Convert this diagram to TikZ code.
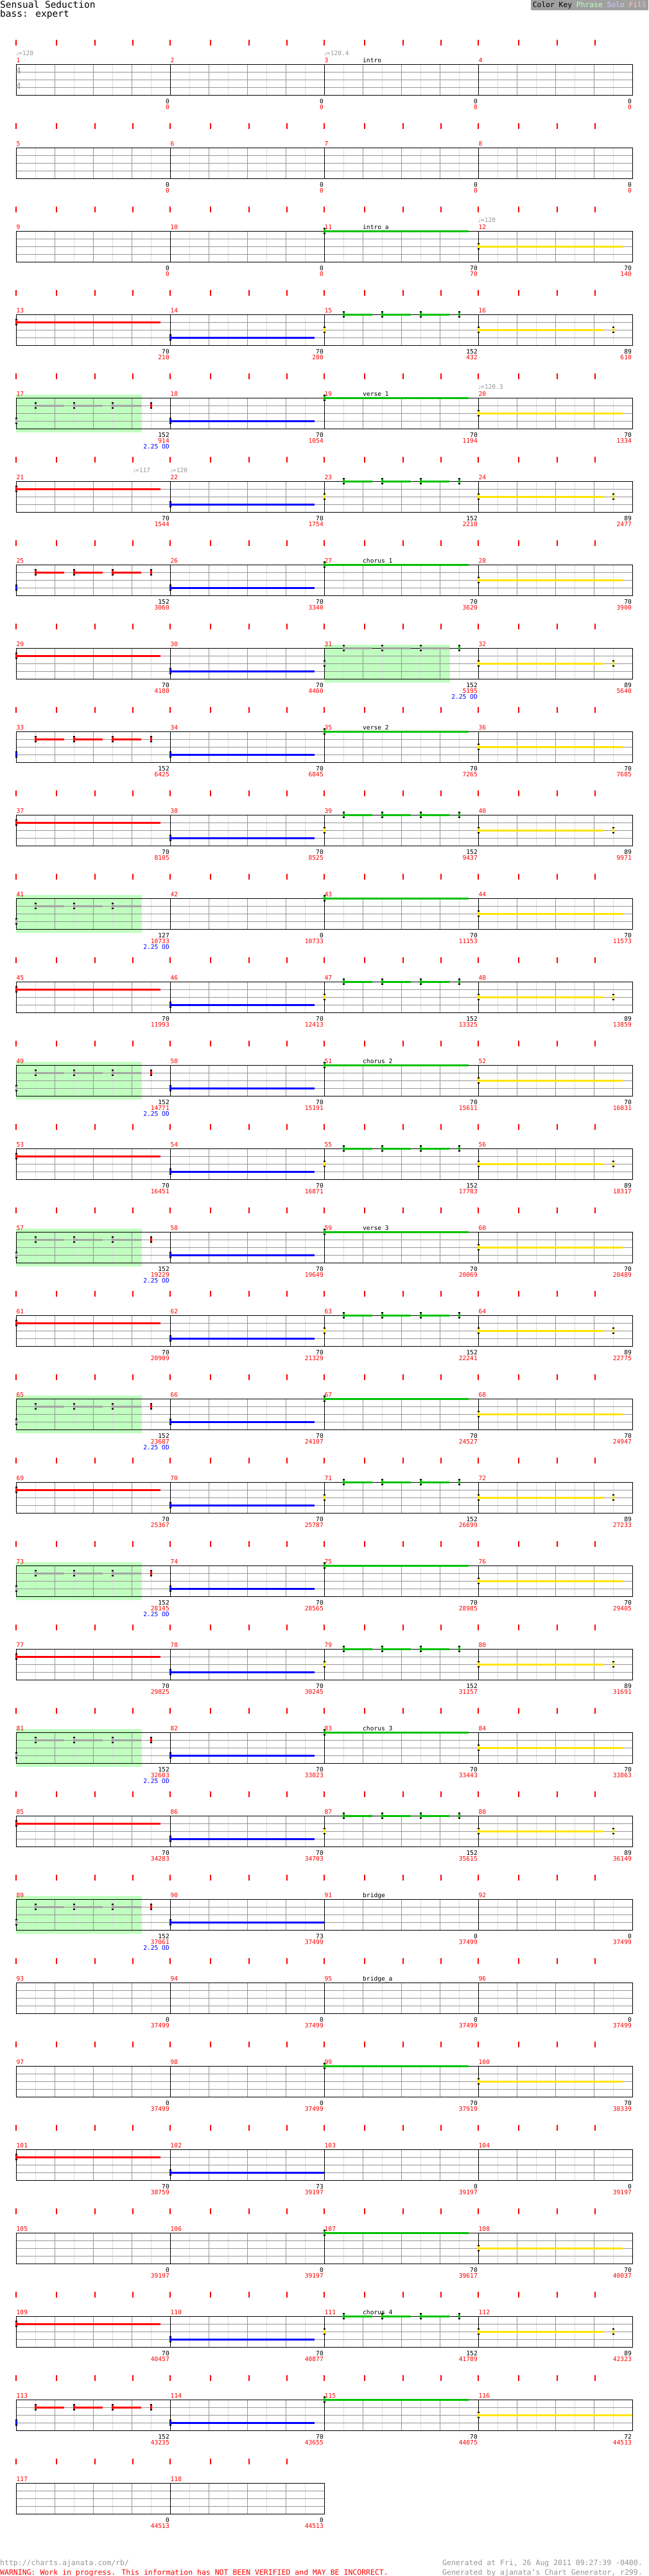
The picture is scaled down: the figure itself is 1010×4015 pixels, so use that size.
\documentclass[tikz,border=0pt]{standalone}
\usepackage{fontspec}
\setmainfont{DejaVu Sans Mono}
\newfontfamily\symfont{DejaVu Sans}
\definecolor{nred}{RGB}{255,0,0}
\definecolor{ngrn}{RGB}{0,192,0}
\definecolor{nyel}{RGB}{255,228,0}
\definecolor{nblue}{RGB}{0,0,255}
\definecolor{ngray}{RGB}{165,165,165}
\definecolor{odfill}{RGB}{192,255,192}
\definecolor{lanegray}{RGB}{150,150,150}
\definecolor{eighthgray}{RGB}{221,221,221}
\definecolor{tgray}{RGB}{150,150,150}
\definecolor{keybg}{RGB}{160,160,160}
\definecolor{phrasec}{RGB}{192,255,192}
\definecolor{soloc}{RGB}{204,204,255}
\definecolor{fillc}{RGB}{255,196,196}

\newcommand\lbl{\fontsize{9.6pt}{11pt}\selectfont}
\newcommand\findmeasure[1]{\pgfmathtruncatemacro\mrow{(#1-1)/4}\pgfmathtruncatemacro\mcol{mod(#1-1,4)}}
\newcommand\tap[3]{%
  \fill[black] ({#1-1},{#2*12-5}) rectangle ++(2.5,10);
  \fill[#3] ({#1-1},{#2*12-3}) rectangle ++(2.5,6);}
\newcommand\hold[4]{%
  \draw[line width=3pt,#4] (#1,{#2*12}) -- ++(#3,0);
  \tap{#1}{#2}{#4}}
\newcommand\trip[2]{\foreach \k in {30,90,150}{\hold{\k}{#1}{45}{#2}}}
\newcommand\patA{\hold{0}{1}{225}{nred}}
\newcommand\patB{\hold{0}{3}{225}{nblue}}
\newcommand\patL{\hold{0}{3}{240}{nblue}}
\newcommand\patC{\tap{0}{2}{nyel}\trip{0}{ngrn}\tap{210}{0}{ngrn}}
\newcommand\patO{\tap{0}{2}{ngray}\trip{0}{ngray}\tap{210}{0}{ngrn}}
\newcommand\patD{\hold{0}{2}{195}{nyel}\tap{210}{2}{nyel}}
\newcommand\patE{\hold{0}{0}{225}{ngrn}}
\newcommand\patF{\hold{0}{2}{225}{nyel}}
\newcommand\patM{\hold{0}{2}{240}{nyel}}
\newcommand\patG{\tap{0}{3}{nblue}\trip{1}{nred}\tap{210}{1}{nred}}
\newcommand\patH{\tap{0}{3}{ngray}\trip{1}{ngray}\tap{210}{1}{nred}}
\newcommand\patK{\tap{0}{3}{ngray}\trip{1}{ngray}}
\newcommand\staffrow[2]{%
  \pgfmathtruncatemacro\rowy{100+130*#1}%
  \pgfmathtruncatemacro\roww{240*#2}%
  \begin{scope}[shift={(25,\rowy)}]
    \foreach \i in {30,90,...,\roww} \draw[eighth] (\i,0) -- (\i,48);
    \foreach \i in {60,120,...,\roww} \draw[beat] (\i,0) -- (\i,48);
    \foreach \j in {12,24,36} \draw[beat] (0,\j) -- (\roww,\j);
    \foreach \i in {240,480,...,\roww} \draw[bar] (\i,0) -- (\i,48);
    \draw[bar] (0,0) rectangle (\roww,48);
  \end{scope}}

\begin{document}
\begin{tikzpicture}[x=1pt,y=-1pt,
  eighth/.style={eighthgray,line width=1pt},
  beat/.style={lanegray,line width=1pt},
  bar/.style={black,line width=1pt},
  tick/.style={nred,line width=1.4pt},
  mnum/.style={anchor=base west,inner sep=0pt,text=nred,font=\lbl},
  sec/.style={anchor=base west,inner sep=0pt,font=\lbl},
  tempo/.style={anchor=base west,inner sep=0pt,text=tgray,font=\lbl},
  beatnum/.style={anchor=base east,inner sep=0pt,font=\lbl},
  timenum/.style={beatnum,text=nred},
  odnum/.style={beatnum,text=nblue},
  head/.style={anchor=base west,inner sep=0pt,font=\fontsize{14.5pt}{16pt}\selectfont},
  foot/.style={anchor=base west,inner sep=0pt,font=\fontsize{11.5pt}{13pt}\selectfont}]
\fill[white] (0,0) rectangle (1010,4015);
\useasboundingbox (0,0) rectangle (1010,4015);

\node[head] (title) at (0,12.7) {Sensual Seduction};
\node[head] (part) at (0,26) {bass: expert};
\node[anchor=north east,fill=keybg,inner xsep=3pt,inner ysep=2pt,text height=9pt,text depth=3pt,
  font=\fontsize{11.3pt}{13pt}\selectfont] (key) at (1010,0)
  {Color Key {\color{phrasec}Phrase} {\color{soloc}Solo} {\color{fillc}Fill}};

\foreach \n in {17,31,41,49,57,65,73,81,89}{\findmeasure{\n}
  \fill[odfill] ({25+240*\mcol},{95+130*\mrow}) rectangle ++(196,59);}

\foreach \r in {0,...,28}{\staffrow{\r}{4}}
\staffrow{29}{2}

\foreach \r in {0,...,29}{
  \pgfmathtruncatemacro\nm{\r==29 ? 1 : 3}
  \foreach \m in {0,...,\nm}{
    \draw[tick,line width=2pt] ({25+240*\m},{62+130*\r}) -- ++(0,9);
    \foreach \o in {63,123,182} \draw[tick] ({25+240*\m+\o},{62+130*\r}) -- ++(0,9);}}

\node[anchor=base west,inner sep=0pt,text=tgray,font=\fontsize{14pt}{16pt}\selectfont] (ts1) at (24.5,115) {4};
\node[anchor=base west,inner sep=0pt,text=tgray,font=\fontsize{14pt}{16pt}\selectfont] (ts2) at (24.5,139) {4};

\foreach \n in {1,...,118}{\findmeasure{\n}
  \node[mnum] (m\n) at ({25.5+240*\mcol},{97+130*\mrow}) {\n};}

\foreach \n/\s in {3/intro,11/intro\_a,19/verse\_1,27/chorus\_1,35/verse\_2,51/chorus\_2,
  59/verse\_3,83/chorus\_3,91/bridge,95/bridge\_a,111/chorus\_4}{\findmeasure{\n}
  \node[sec] (s\n) at ({85+240*\mcol},{97+130*\mrow}) {\s};}

\foreach \n/\o/\t in {1/0/120,3/0/120.4,12/0/120,20/0/120.3,21/182/117,22/0/120}{\findmeasure{\n}
  \node[tempo] (q\n) at ({25+\o+240*\mcol},{86+130*\mrow}) {{\symfont\fontsize{8pt}{9pt}\selectfont ♩}=\t};}

\foreach \n/\p in {11/E,12/F,13/A,14/B,15/C,16/D,17/H,18/B,19/E,20/F,
  21/A,22/B,23/C,24/D,25/G,26/B,27/E,28/F,29/A,30/B,31/O,32/D,
  33/G,34/B,35/E,36/F,37/A,38/B,39/C,40/D,41/K,43/E,44/F,
  45/A,46/B,47/C,48/D,49/H,50/B,51/E,52/F,53/A,54/B,55/C,56/D,
  57/H,58/B,59/E,60/F,61/A,62/B,63/C,64/D,65/H,66/B,67/E,68/F,
  69/A,70/B,71/C,72/D,73/H,74/B,75/E,76/F,77/A,78/B,79/C,80/D,
  81/H,82/B,83/E,84/F,85/A,86/B,87/C,88/D,89/H,90/L,99/E,100/F,
  101/A,102/L,107/E,108/F,109/A,110/B,111/C,112/D,113/G,114/B,115/E,116/M}{\findmeasure{\n}
  \begin{scope}[shift={({25+240*\mcol},{100+130*\mrow})}]
    \csname pat\p\endcsname
  \end{scope}}

\foreach \n/\a/\b in {1/0/0,2/0/0,3/0/0,4/0/0,5/0/0,6/0/0,7/0/0,8/0/0,
  9/0/0,10/0/0,11/70/70,12/70/140,13/70/210,14/70/280,15/152/432,16/89/610,
  17/152/914,18/70/1054,19/70/1194,20/70/1334,21/70/1544,22/70/1754,23/152/2210,24/89/2477,
  25/152/3060,26/70/3340,27/70/3620,28/70/3900,29/70/4180,30/70/4460,31/152/5195,32/89/5640,
  33/152/6425,34/70/6845,35/70/7265,36/70/7685,37/70/8105,38/70/8525,39/152/9437,40/89/9971,
  41/127/10733,42/0/10733,43/70/11153,44/70/11573,45/70/11993,46/70/12413,47/152/13325,48/89/13859,
  49/152/14771,50/70/15191,51/70/15611,52/70/16031,53/70/16451,54/70/16871,55/152/17783,56/89/18317,
  57/152/19229,58/70/19649,59/70/20069,60/70/20489,61/70/20909,62/70/21329,63/152/22241,64/89/22775,
  65/152/23687,66/70/24107,67/70/24527,68/70/24947,69/70/25367,70/70/25787,71/152/26699,72/89/27233,
  73/152/28145,74/70/28565,75/70/28985,76/70/29405,77/70/29825,78/70/30245,79/152/31157,80/89/31691,
  81/152/32603,82/70/33023,83/70/33443,84/70/33863,85/70/34283,86/70/34703,87/152/35615,88/89/36149,
  89/152/37061,90/73/37499,91/0/37499,92/0/37499,93/0/37499,94/0/37499,95/0/37499,96/0/37499,
  97/0/37499,98/0/37499,99/70/37919,100/70/38339,101/70/38759,102/73/39197,103/0/39197,104/0/39197,
  105/0/39197,106/0/39197,107/70/39617,108/70/40037,109/70/40457,110/70/40877,111/152/41789,112/89/42323,
  113/152/43235,114/70/43655,115/70/44075,116/72/44513,117/0/44513,118/0/44513}{\findmeasure{\n}
  \node[beatnum] (a\n) at ({24+240*(\mcol+1)},{161+130*\mrow}) {\a};
  \node[timenum] (b\n) at ({24+240*(\mcol+1)},{170+130*\mrow}) {\b};}

\foreach \n in {17,31,41,49,57,65,73,81,89}{\findmeasure{\n}
  \node[odnum] (o\n) at ({24+240*(\mcol+1)},{179+130*\mrow}) {2.25 OD};}

\node[foot,text=tgray] (url) at (0,3998) {http://charts.ajanata.com/rb/};
\node[foot,text=nred] (warn) at (0,4013) {WARNING: Work in progress. This information has NOT BEEN VERIFIED and MAY BE INCORRECT.};
\node[foot,text=tgray] (gen) at (689,3998) {Generated at Fri, 26 Aug 2011 09:27:39 -0400.};
\node[foot,text=tgray] (ver) at (689,4013) {Generated by ajanata's Chart Generator, r299.};
\end{tikzpicture}
\end{document}
